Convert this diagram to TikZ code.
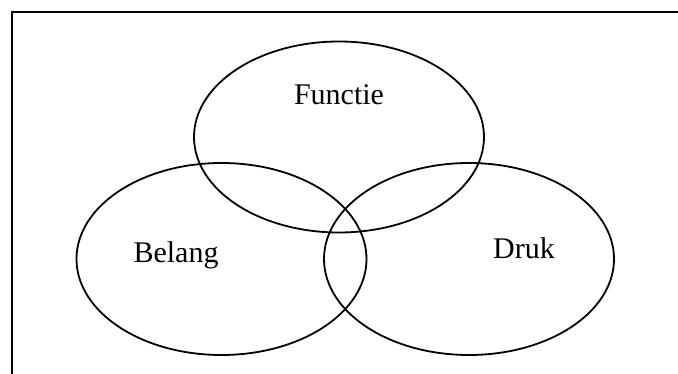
\documentclass[tikz,border=0pt]{standalone}
\usepackage{fontspec}
\setmainfont{Liberation Serif}
\usetikzlibrary{shapes.geometric}
\begin{document}
\begin{tikzpicture}[x=1pt,y=-1pt,
  venn/.style={draw=black,line width=1.8pt,ellipse,minimum width=290pt,minimum height=192pt,inner sep=0pt},
  lbl/.style={font=\fontsize{30}{34}\selectfont,inner sep=0pt,anchor=base}]
\useasboundingbox (0,0) rectangle (678,374);
\coordinate (bl) at (12,374);
\coordinate (tl) at (12,12);
\coordinate (tr) at (678,12);
\draw[line width=2.2pt] (bl) -- (tl) -- (tr);
\node[venn,minimum height=191pt] (top) at (339,137) {};
\node[venn] (left) at (221.5,259) {};
\node[venn] (right) at (469,259) {};
\node[lbl] (functie) at (339,105) {Functie};
\node[lbl] (belang) at (176,263) {Belang};
\node[lbl] (druk) at (524,259) {Druk};
\end{tikzpicture}
\end{document}
